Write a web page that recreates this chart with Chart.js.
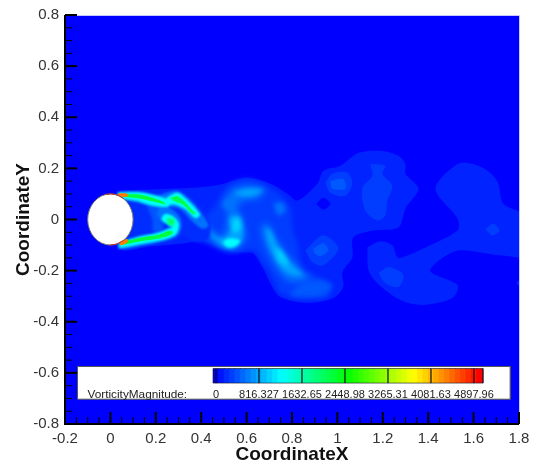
<!DOCTYPE html>
<html lang="en">
<head>
  <meta charset="UTF-8">
  <title>Vorticity magnitude</title>
  <script src="https://cdn.jsdelivr.net/npm/chart.js"></script>
  <style>
    html, body { margin: 0; padding: 0; background: #fff; }
    canvas { display: block; }
  </style>
</head>
<body>
  <canvas id="contourChart" width="540" height="466"></canvas>

  <script>
    // axis ticks
    const xMajor = [-0.2, 0, 0.2, 0.4, 0.6, 0.8, 1, 1.2, 1.4, 1.6, 1.8];
    const yMajor = [-0.8, -0.6, -0.4, -0.2, 0, 0.2, 0.4, 0.6, 0.8];
    const minorSteps = [0.05, 0.1, 0.15];

    // colour bar
    const barLevels = [0, 102, 204, 306, 408, 510, 612, 714, 816, 918, 1020, 1122, 1224, 1327, 1429, 1531, 1633,
      1735, 1837, 1939, 2041, 2143, 2245, 2347, 2449, 2551, 2653, 2755, 2857, 2959, 3061, 3163, 3265, 3367, 3469,
      3571, 3673, 3776, 3878, 3980, 4082, 4184, 4286, 4388, 4490, 4592, 4694, 4796, 4898, 5000];
    const barTicks = [0, 816.327, 1632.65, 2448.98, 3265.31, 4081.63, 4897.96];
    const barTickLabels = ["0", "816.327", "1632.65", "2448.98", "3265.31", "4081.63", "4897.96"];

    // contour outlines, as [x, y]
    const farWake = [[.044,.113],[.264,.120],[.419,.128],[.498,.140],[.604,.163],[.705,.140],[.780,.101],[.824,.074],[.912,.140],[.938,.190],[1.013,.210],[1.092,.260],[1.198,.268],[1.269,.249],[1.300,.217],[1.300,.179],[1.357,.120],[1.300,.043],[1.269,-.031],[1.159,-.043],[1.070,-.070],[1.066,-.148],[1.022,-.206],[1.026,-.264],[.982,-.307],[.868,-.326],[.749,-.303],[.705,-.249],[.670,-.186],[.630,-.132],[.573,-.128],[.485,-.113],[.410,-.082],[.330,-.093],[.176,-.105],[.044,-.113]];
    const farWakeRight = [[1.132,-.109],[1.189,-.085],[1.242,-.101],[1.264,-.148],[1.286,-.148],[1.379,-.113],[1.529,-.043],[1.529,.004],[1.432,.120],[1.529,.217],[1.599,.217],[1.674,.183],[1.709,.140],[1.731,.062],[1.85,.004],[1.85,-.140],[1.718,-.140],[1.542,-.120],[1.467,-.148],[1.410,-.202],[1.529,-.256],[1.507,-.307],[1.374,-.334],[1.278,-.315],[1.176,-.249],[1.137,-.198]];
    const farEdge = [[1.85,-.205],[1.79,-.25],[1.85,-.275]];
    const lumpA = [[.947,.144],[.978,.179],[1.044,.183],[1.066,.140],[1.035,.093],[.969,.105]];
    const lumpAInner = [[.969,.151],[1.026,.159],[1.035,.120],[.978,.120]];
    const lumpB = [[1.145,.217],[1.211,.210],[1.198,.179],[1.242,.132],[1.220,.074],[1.211,.016],[1.176,-.004],[1.123,.035],[1.110,.124],[1.154,.171]];
    const lumpC = [[.859,-.120],[.938,-.062],[1.004,-.113],[.938,-.179],[.890,-.167]];
    const lumpCInner = [[.894,-.113],[.938,-.093],[.960,-.120],[.925,-.144],[.899,-.132]];
    const lumpD = [[1.181,-.210],[1.225,-.186],[1.291,-.217],[1.269,-.264],[1.211,-.249]];
    const lumpE = [[1.652,-.039],[1.687,-.016],[1.714,-.043],[1.683,-.062]];
    const holeA = [[.907,.062],[.938,.085],[.969,.062],[.938,.039]];

    const midWake = [[.454,.047],[.493,.105],[.537,.144],[.608,.159],[.683,.132],[.740,.101],[.793,.047],[.802,-.031],[.828,-.109],[.846,-.198],[.903,-.217],[.969,-.264],[.956,-.303],[.850,-.307],[.749,-.287],[.714,-.225],[.674,-.171],[.630,-.120],[.542,-.128],[.471,-.109],[.396,-.082],[.352,-.054]];
    const midTail = [[.837,-.249],[.912,-.237],[.978,-.256],[.938,-.295],[.837,-.303],[.793,-.295]];
    const midBand = [[.352,.066],[.383,.035],[.441,-.035],[.493,-.062],[.515,.016],[.498,.066],[.542,.120],[.608,.132],[.683,.120],[.652,.082],[.595,.074],[.559,.054],[.586,-.004],[.595,-.082],[.542,-.120],[.485,-.109],[.410,-.050],[.352,-.012]];
    const midCore = [[.352,.062],[.388,.008],[.454,-.062],[.498,-.074],[.529,-.043],[.524,.008],[.564,.016],[.581,-.023],[.581,-.070],[.542,-.109],[.493,-.101],[.419,-.043],[.352,.008]];
    const midBlobLow = [[.493,-.089],[.520,-.074],[.573,-.082],[.551,-.105],[.515,-.109]];
    const midBlobHigh = [[.537,-.004],[.564,.004],[.573,-.035],[.542,-.050]];
    const topArc = [[.542,.105],[.604,.120],[.670,.116],[.630,.093],[.573,.093]];
    const ribbonOuter = [[.661,-.023],[.696,-.016],[.736,-.082],[.793,-.148],[.859,-.210],[.881,-.229],[.793,-.245],[.736,-.198],[.696,-.132],[.670,-.074]];
    const ribbonMid = [[.683,-.035],[.705,-.043],[.740,-.109],[.793,-.171],[.846,-.217],[.780,-.210],[.736,-.167],[.696,-.093]];
    const ribbonCore = [[.727,-.109],[.758,-.128],[.784,-.179],[.740,-.159]];
    const spotRight = [[.718,.062],[.758,.066],[.771,.035],[.740,.016]];
    const spotLeft = [[.493,.066],[.529,.082],[.537,.054],[.507,.043]];

    const nearHalo = [[.035,.105],[.145,.112],[.220,.102],[.286,.114],[.352,.090],[.410,.032],[.441,-.023],[.432,-.074],[.374,-.089],[.322,-.066],[.278,-.086],[.145,-.103],[.035,-.107]];
    const wakeStreak = [[.160,.055],[.200,.050],[.225,.000],[.235,-.040],[.190,-.050],[.185,.000]];
    const topJetOuter = [[.031,.108],[.132,.108],[.207,.095],[.251,.106],[.295,.112],[.348,.080],[.402,.023],[.432,-.025],[.405,-.036],[.361,-.008],[.308,.040],[.264,.048],[.233,.040],[.189,.048],[.132,.064],[.031,.085]];
    const topJetMid = [[.035,.106],[.132,.106],[.207,.092],[.250,.078],[.255,.050],[.176,.056],[.119,.072],[.035,.086]];
    const topLobeMid = [[.245,.085],[.295,.105],[.335,.080],[.395,.020],[.375,.005],[.330,.040],[.286,.058],[.245,.058]];
    const topJetCore = [[.053,.098],[.132,.097],[.189,.084],[.240,.066],[.240,.059],[.189,.070],[.123,.083],[.053,.090]];
    const topLobeCore = [[.262,.084],[.295,.092],[.330,.068],[.345,.052],[.375,.023],[.362,.022],[.320,.058],[.280,.072]];
    const topTip = [[.035,.103],[.075,.101],[.075,.090],[.035,.093]];
    const lowJetOuter = [[.035,-.095],[.132,-.074],[.207,-.056],[.246,-.038],[.258,-.023],[.228,-.010],[.205,.025],[.220,.052],[.255,.048],[.300,.018],[.314,-.023],[.292,-.066],[.236,-.084],[.132,-.103],[.035,-.115]];
    const lowJetMid = [[.040,-.090],[.132,-.065],[.207,-.052],[.250,-.038],[.272,-.030],[.250,-.018],[.225,.000],[.240,.022],[.278,.012],[.302,-.016],[.292,-.056],[.255,-.074],[.132,-.097],[.040,-.110]];
    const lowJetCore = [[.050,-.087],[.132,-.071],[.207,-.061],[.262,-.044],[.276,-.050],[.262,-.062],[.207,-.075],[.132,-.085],[.050,-.098]];
    const swirlCore = [[.252,.007],[.281,.000],[.278,-.024],[.252,-.017]];
    const lowTip = [[.044,-.083],[.075,-.076],[.075,-.089],[.044,-.101]];

    // outline, value, blur - painted in this order
    const layers = [
      [farWake, 170, 0.7], [farWakeRight, 170, 0.7], [farEdge, 170, 0.7], [holeA, 0, 0.7],
      [lumpA, 300, 0.7], [lumpAInner, 430, 0.7], [lumpB, 300, 0.7], [lumpC, 300, 0.7], [lumpCInner, 430, 0.7],
      [lumpD, 300, 0.7], [lumpE, 300, 0.7],
      [midWake, 300, 2.5], [midTail, 430, 2.5], [midBand, 560, 3], [midCore, 800, 2], [midBlobLow, 1250, 1.5],
      [midBlobHigh, 1050, 2], [topArc, 800, 2], [ribbonOuter, 560, 3], [ribbonMid, 800, 2], [ribbonCore, 1000, 2],
      [spotRight, 560, 2], [spotLeft, 560, 2],
      [nearHalo, 220, 1.2], [wakeStreak, 420, 1.5], [topJetOuter, 560, 1], [lowJetOuter, 560, 1],
      [topJetMid, 1300, 0.8], [topLobeMid, 1300, 0.8], [lowJetMid, 1300, 0.8],
      [topJetCore, 2200, 0.6], [topLobeCore, 2100, 0.7], [lowJetCore, 2200, 0.6], [swirlCore, 2000, 0.8],
      [topTip, 4400, 0.4], [lowTip, 4400, 0.4]
    ];

    const cylinderRadius = 0.1;
    const panel = { left: -0.145, right: 1.762, top: -0.575, bottom: -0.703 };
    const barTop = -0.583, barBottom = -0.64, labelY = -0.687;

    function levelColor(v) {
      let r = 0, g = 0, b = 255;
      if (v < 1250) { g = v / 1250 * 255; }
      else if (v < 2500) { g = 255; b = 255 * (1 - (v - 1250) / 1250); }
      else if (v < 3750) { r = 255 * (v - 2500) / 1250; g = 255; b = 0; }
      else { r = 255; g = 255 * (1 - (v - 3750) / 1250); b = 0; }
      return "rgb(" + Math.round(r) + "," + Math.round(g) + "," + Math.round(b) + ")";
    }

    function toPoints(list) {
      const pts = list.map(p => ({ x: p[0], y: p[1] }));
      pts.push(pts[0]);
      return pts;
    }

    function shapeDataset(pts, color, blur, extra) {
      return Object.assign({
        data: pts, showLine: true, fill: "shape", backgroundColor: color, borderWidth: 0,
        pointRadius: 0, tension: 0, blur: blur
      }, extra || {});
    }

    const datasets = layers.map(l => shapeDataset(toPoints(l[0]), levelColor(l[1]), l[2], { tension: 0.3 }));

    // legend panel
    datasets.push(shapeDataset([
      { x: panel.left, y: panel.top }, { x: panel.right, y: panel.top },
      { x: panel.right, y: panel.bottom }, { x: panel.left, y: panel.bottom }, { x: panel.left, y: panel.top }
    ], "#ffffff", 0, { borderWidth: 1, borderColor: "#555555" }));

    // colour bar bands on their own value axis
    barLevels.forEach(v => {
      datasets.push(shapeDataset([
        { x: v - 57, y: barTop }, { x: v + 70, y: barTop }, { x: v + 70, y: barBottom }, { x: v - 57, y: barBottom }, { x: v - 57, y: barTop }
      ], levelColor(v), 0, { xAxisID: "xBar" }));
    });
    barTicks.forEach(v => {
      datasets.push({
        data: [{ x: v, y: barTop }, { x: v, y: barBottom }], xAxisID: "xBar", showLine: true,
        borderColor: "rgba(20,20,20,0.55)", borderWidth: 1, pointRadius: 0, blur: 0
      });
    });
    datasets.push({
      data: [{ x: -57, y: barTop }, { x: 5070, y: barTop }, { x: 5070, y: barBottom }, { x: -57, y: barBottom }, { x: -57, y: barTop }],
      xAxisID: "xBar", showLine: true, borderColor: "rgba(20,20,40,0.6)", borderWidth: 1, pointRadius: 0, blur: 0
    });
    datasets.forEach((d, i) => { d.order = -i; });

    function setBlur(ctx, blur) {
      ctx.filter = blur ? "blur(" + blur + "px)" : "none";
    }

    const fieldPlugin = {
      id: "field",
      beforeDatasetsDraw(chart) {
        const a = chart.chartArea;
        chart.ctx.fillStyle = "#0000ff";
        chart.ctx.fillRect(a.left, a.top, a.right - a.left, a.bottom - a.top);
        setBlur(chart.ctx, datasets[0].blur);
      },
      afterDatasetDraw(chart, args) {
        const ctx = chart.ctx;
        const next = datasets[args.index + 1];
        setBlur(ctx, next ? next.blur : 0);
        // cylinder goes on top of the field, under the legend
        if (args.index === layers.length - 1) {
          const cx = chart.scales.x.getPixelForValue(0);
          const cy = chart.scales.y.getPixelForValue(0);
          const rx = chart.scales.x.getPixelForValue(cylinderRadius) - cx;
          const ry = cy - chart.scales.y.getPixelForValue(cylinderRadius);
          ctx.save();
          ctx.filter = "none";
          ctx.fillStyle = "#ffffff";
          ctx.strokeStyle = "#777777";
          ctx.lineWidth = 1;
          ctx.beginPath();
          ctx.ellipse(cx, cy, rx, ry, 0, 0, Math.PI * 2);
          ctx.fill();
          ctx.stroke();
          ctx.strokeStyle = "#c8321e";
          ctx.beginPath();
          ctx.ellipse(cx, cy, rx, ry, 0, -1.75, -0.95);
          ctx.stroke();
          ctx.beginPath();
          ctx.ellipse(cx, cy, rx, ry, 0, 0.95, 1.6);
          ctx.stroke();
          ctx.restore();
        }
      },
      afterDatasetsDraw(chart) {
        const ctx = chart.ctx;
        const a = chart.chartArea;
        const { x, y, xBar } = chart.scales;
        setBlur(ctx, 0);

        // legend texts
        ctx.fillStyle = "#222222";
        ctx.textBaseline = "middle";
        ctx.textAlign = "left";
        ctx.font = "11.8px 'Liberation Sans', Arial, sans-serif";
        ctx.fillText("VorticityMagnitude:", x.getPixelForValue(-0.101), y.getPixelForValue(labelY));
        ctx.font = "11px 'Liberation Sans', Arial, sans-serif";
        ctx.textAlign = "center";
        barTicks.forEach((v, i) => {
          ctx.fillText(barTickLabels[i], xBar.getPixelForValue(v), y.getPixelForValue(labelY));
        });

        // faint top and right edge, heavy left and bottom axis, inward ticks
        ctx.strokeStyle = "#c8c8ff";
        ctx.lineWidth = 1;
        ctx.beginPath();
        ctx.moveTo(a.left, a.top + 0.5);
        ctx.lineTo(a.right + 0.5, a.top + 0.5);
        ctx.lineTo(a.right + 0.5, a.bottom);
        ctx.stroke();

        ctx.strokeStyle = "#000000";
        ctx.lineWidth = 2;
        ctx.beginPath();
        ctx.moveTo(a.left, a.top);
        ctx.lineTo(a.left, a.bottom);
        ctx.lineTo(a.right, a.bottom);
        ctx.stroke();

        xMajor.forEach(v => {
          tick(ctx, x.getPixelForValue(v), a.bottom, 0, -12, 2);
          if (v < 1.8) minorSteps.forEach(s => tick(ctx, x.getPixelForValue(v + s), a.bottom, 0, -7, 1));
        });
        yMajor.forEach(v => {
          tick(ctx, a.left, y.getPixelForValue(v), 12, 0, 2);
          if (v < 0.8) minorSteps.forEach(s => tick(ctx, a.left, y.getPixelForValue(v + s), 7, 0, 1));
        });
      }
    };

    function tick(ctx, px, py, dx, dy, w) {
      ctx.lineWidth = w;
      ctx.beginPath();
      ctx.moveTo(px, py);
      ctx.lineTo(px + dx, py + dy);
      ctx.stroke();
    }

    function tickText(v) {
      return String(Number(v.toFixed(1)));
    }

    new Chart(document.getElementById("contourChart").getContext("2d"), {
      type: "scatter",
      data: { datasets: datasets },
      plugins: [fieldPlugin],
      options: {
        responsive: false,
        animation: false,
        layout: { padding: { top: 12, right: 21, bottom: 0, left: 0 } },
        plugins: { legend: { display: false }, tooltip: { enabled: false } },
        scales: {
          x: {
            type: "linear", min: -0.2, max: 1.8,
            afterFit: s => { s.height = 42; },
            grid: { display: false, drawTicks: false }, border: { display: false },
            ticks: { stepSize: 0.2, color: "#333333", padding: 6, maxRotation: 0, font: { size: 15, family: "'Liberation Sans'" }, callback: tickText },
            title: { display: true, text: "CoordinateX", color: "#111111", padding: 0, font: { size: 19, weight: "bold", family: "'Liberation Sans'" } }
          },
          y: {
            type: "linear", min: -0.8, max: 0.8,
            afterFit: s => { s.width = 65; },
            grid: { display: false, drawTicks: false }, border: { display: false },
            ticks: { stepSize: 0.2, color: "#333333", padding: 6, font: { size: 15, family: "'Liberation Sans'" }, callback: tickText },
            title: { display: true, text: "CoordinateY", color: "#111111", padding: { top: 12, bottom: 0 }, font: { size: 19, weight: "bold", family: "'Liberation Sans'" } }
          },
          xBar: { type: "linear", display: false, min: -2867, max: 5753 }
        }
      }
    });
  </script>
</body>
</html>
